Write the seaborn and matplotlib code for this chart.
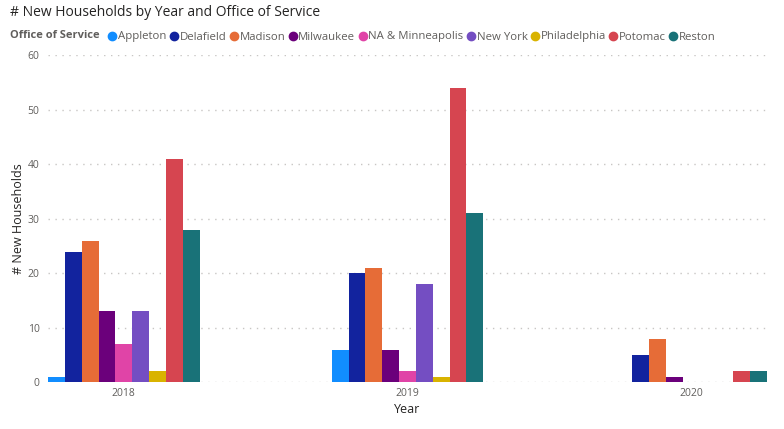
import matplotlib.pyplot as plt
import numpy as np
import pandas as pd
import seaborn as sns
from matplotlib.lines import Line2D

# Data
years = ["2018", "2019", "2020"]
offices = ["Appleton", "Delafield", "Madison", "Milwaukee", "NA & Minneapolis",
           "New York", "Philadelphia", "Potomac", "Reston"]
colors = ["#118DFF", "#12239E", "#E66C37", "#6B007B", "#E044A7",
          "#744EC2", "#D9B300", "#D64550", "#197278"]
new_2018 = [1, 24, 26, 13, 7, 13, 2, 41, 28]
new_2019 = [6, 20, 21, 6, 2, 18, 1, 54, 31]
new_2020 = [None, 5, 8, 1, None, None, None, 2, 2]

rows = []
for year, vals in zip(years, [new_2018, new_2019, new_2020]):
    for office, v in zip(offices, vals):
        if v is not None:
            rows.append({"Year": year, "Office": office, "New": v})
df = pd.DataFrame(rows)

sns.set_style("white")
plt.rcParams["font.family"] = ["Open Sans", "DejaVu Sans"]

W, H = 784, 429
fig = plt.figure(figsize=(W / 100, H / 100), dpi=100)
ax = fig.add_axes([48 / W, 1 - 382.3 / H, 719 / W, 327 / H])

sns.barplot(data=df, x="Year", y="New", hue="Office", hue_order=offices,
            order=years, palette=colors, saturation=1, width=0.534, ax=ax,
            legend=False, linewidth=0)

ax.set_xlim(-0.267, 2.267)
ax.set_ylim(0, 60)
ax.set_yticks(np.arange(0, 61, 10))
for y in np.arange(0, 61, 10):
    ax.axhline(y, color="#C8C6C4", linestyle=(0, (1, 4)), linewidth=1, zorder=0)
sns.despine(ax=ax, left=True, bottom=True)
ax.tick_params(axis="both", length=0, labelsize=7.5, labelcolor="#605E5C")
ax.tick_params(axis="y", pad=6)
ax.tick_params(axis="x", pad=4)
ax.set_xlabel("Year", fontsize=9, color="#252423", labelpad=3)
ax.set_ylabel("# New Households", fontsize=9, color="#252423", labelpad=2)

fig.text(10 / W, 1 - 12 / H, "# New Households by Year and Office of Service",
         fontsize=10, color="#252423", va="center", ha="left")
fig.text(10 / W, 1 - 36 / H, "Office of Service", fontsize=8, fontweight="bold",
         color="#605E5C", va="center", ha="left")

handles = [Line2D([], [], marker="o", linestyle="", markersize=6,
                  markerfacecolor=c, markeredgecolor=c) for c in colors]
fig.legend(handles, offices, loc="center left", bbox_to_anchor=(109 / W, 1 - 37 / H),
           ncol=len(offices), frameon=False, fontsize=8.2, handlelength=0.6,
           handletextpad=0.2, columnspacing=0.35, borderpad=0, borderaxespad=0,
           labelcolor="#605E5C")

fig.savefig("out.png", dpi=100)
